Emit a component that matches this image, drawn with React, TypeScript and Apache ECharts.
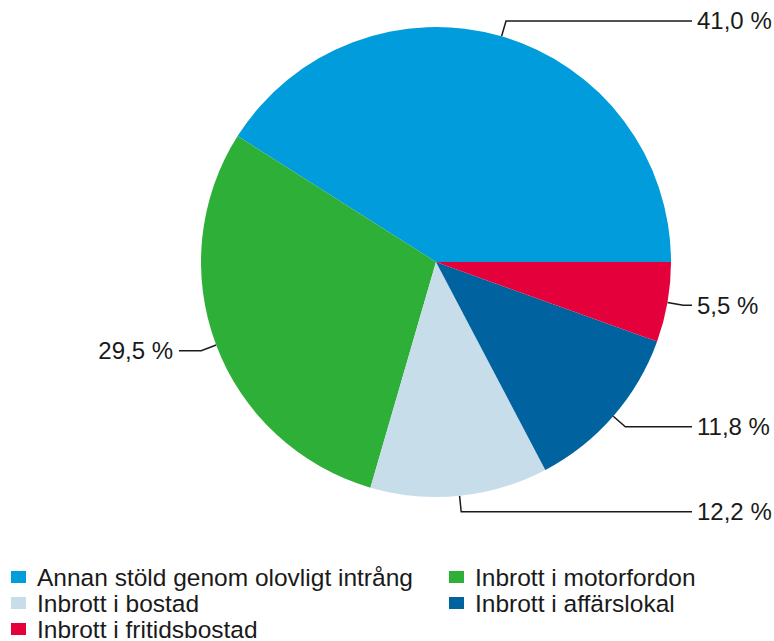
import React, { useEffect, useRef } from "react";
import * as echarts from "echarts";

const categories = [
  "Annan stöld genom olovligt intrång",
  "Inbrott i motorfordon",
  "Inbrott i bostad",
  "Inbrott i affärslokal",
  "Inbrott i fritidsbostad",
];
const values = [41.0, 29.5, 12.2, 11.8, 5.5];
const colors = ["#009cdb", "#2eb038", "#c8ddea", "#00629f", "#e4003a"];
const legendLeftItems = [categories[0], categories[2], categories[4]];
const legendRightItems = [categories[1], categories[3]];

const fmt = (v: number) => v.toFixed(1).replace(".", ",") + " %";

export default function App() {
  const ref = useRef<HTMLDivElement>(null);
  useEffect(() => {
    if (!ref.current) return;
    const chart = echarts.init(ref.current, null, { renderer: "svg" });
    const W = 774;
    const font = "'Liberation Sans', Arial, sans-serif";
    const legendCommon = {
      orient: "vertical" as const,
      icon: "rect",
      itemWidth: 15,
      itemHeight: 12,
      itemGap: 0,
      top: 564,
      height: 100,
      selectedMode: false,
      textStyle: {
        fontFamily: font,
        fontSize: 24.5,
        lineHeight: 26,
        color: "#1a1a1a",
        padding: [0, 0, 0, 6],
      },
      padding: 0,
    };
    chart.setOption({
      animation: false,
      color: colors,
      legend: [
        { ...legendCommon, left: 11, data: legendLeftItems },
        { ...legendCommon, left: 449, data: legendRightItems },
      ],
      series: [
        {
          type: "pie",
          center: [436, 262],
          radius: 235,
          startAngle: 0,
          clockwise: false,
          avoidLabelOverlap: false,
          data: categories.map((c, i) => ({ name: c, value: values[i] })),
          label: {
            show: true,
            formatter: (p: any) => fmt(p.value),
            fontFamily: font,
            fontSize: 24,
            color: "#1a1a1a",
          },
          labelLine: {
            show: true,
            length: 16,
            length2: 20,
            lineStyle: { color: "#1a1a1a", width: 1.5 },
          },
          emphasis: { disabled: true },
          labelLayout: (params: any) => {
            const pts = params.labelLinePoints;
            if (!pts) return {};
            const p0 = pts[0];
            const p1 = pts[1];
            const isRight = p1[0] >= p0[0];
            const endX = isRight ? W - 82 : 179;
            return {
              x: isRight ? endX + 5 : endX - 6,
              y: p1[1],
              align: isRight ? "left" : "right",
              verticalAlign: "middle",
              labelLinePoints: [p0, p1, [endX, p1[1]]],
            };
          },
        },
      ],
    });
    return () => chart.dispose();
  }, []);
  return (
    <div
      ref={ref}
      style={{ position: "absolute", left: 0, top: 0, width: 774, height: 641, background: "#fff" }}
    />
  );
}
